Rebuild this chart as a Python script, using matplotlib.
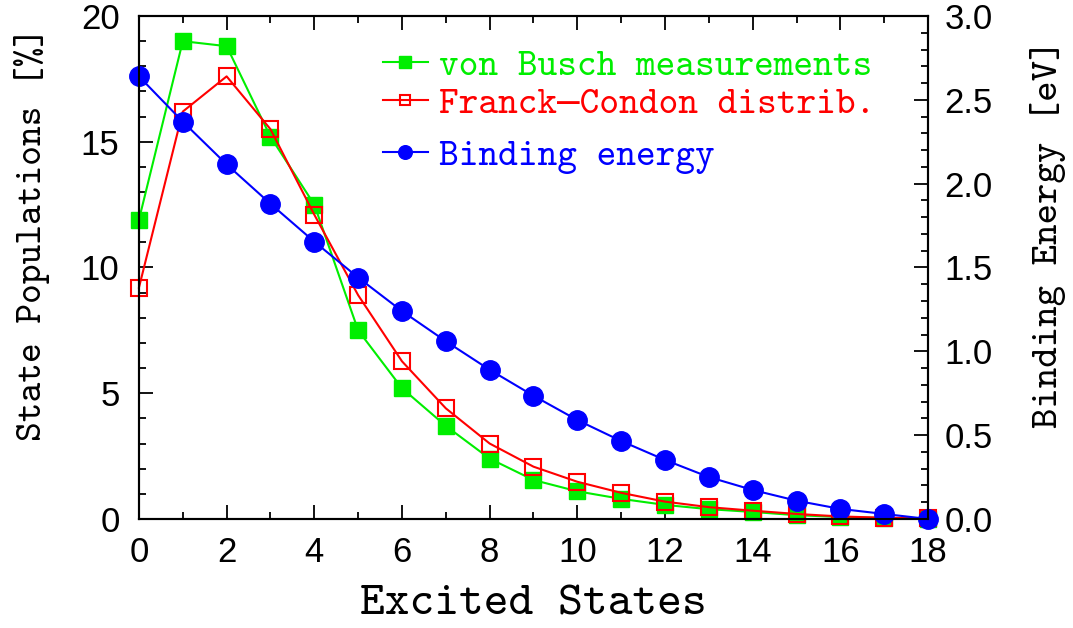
import numpy as np
import matplotlib
matplotlib.use("Agg")
import matplotlib.pyplot as plt
from matplotlib.ticker import MultipleLocator

states = list(range(19))
# measured populations [%]
von_busch = [11.9, 19.0, 18.8, 15.2, 12.5, 7.5, 5.2, 3.7, 2.4, 1.55,
             1.1, 0.8, 0.56, 0.39, 0.28, 0.15, 0.08, 0.04, 0.01]
# Franck-Condon distribution [%]
franck_condon = [9.2, 16.2, 17.6, 15.5, 12.1, 8.9, 6.27, 4.4, 3.0, 2.08,
                 1.48, 1.04, 0.69, 0.47, 0.33, 0.2, 0.1, 0.05, 0.02]
# binding energy [eV]
binding = [2.64, 2.37, 2.115, 1.88, 1.654, 1.44, 1.24, 1.06, 0.89, 0.735,
           0.59, 0.465, 0.352, 0.25, 0.173, 0.109, 0.06, 0.03, 0.0]

mono = ["cmtt10", "DejaVu Sans Mono"]
sans = "Liberation Sans"

fig = plt.figure(figsize=(10.73, 6.28), dpi=100)
ax = fig.add_axes([0.1295, 0.1736, 0.7354, 0.8009])
ax2 = ax.twinx()

l1, = ax.plot(states, von_busch, color="#00ee00", lw=1.5, marker="s", ms=12,
              label="von Busch measurements", clip_on=False)
l2, = ax.plot(states, franck_condon, color="#ff0000", lw=1.5, marker="s", ms=11,
              mfc="none", mew=1.5, label="Franck\u2014Condon distrib.", clip_on=False)
l3, = ax2.plot(states, binding, color="#0000ff", lw=1.5, marker="o", ms=14,
               label="Binding energy", clip_on=False)

ax.set_xlim(0, 18)
ax.set_ylim(0, 20)
ax2.set_ylim(0, 3.0)

ax.xaxis.set_major_locator(MultipleLocator(2))
ax.xaxis.set_minor_locator(MultipleLocator(1))
ax.yaxis.set_major_locator(MultipleLocator(5))
ax.yaxis.set_minor_locator(MultipleLocator(1))
ax2.yaxis.set_major_locator(MultipleLocator(0.5))
ax2.yaxis.set_minor_locator(MultipleLocator(0.1))
ax2.yaxis.set_major_formatter(plt.FormatStrFormatter("%.1f"))

ax.tick_params(which="both", direction="in", top=True, right=False, width=1.3)
ax.tick_params(which="major", length=10, labelsize=25, pad=12)
ax.tick_params(which="minor", length=5)
ax.tick_params(axis="y", pad=14)
ax2.tick_params(which="both", direction="in", width=1.3)
ax2.tick_params(which="major", length=10, labelsize=25, pad=12)
ax2.tick_params(which="minor", length=5)
for lab in ax.get_xticklabels() + ax.get_yticklabels() + ax2.get_yticklabels():
    lab.set_fontfamily(sans)

for a in (ax, ax2):
    for sp in a.spines.values():
        sp.set_linewidth(1.5)

ax.set_xlabel("Excited States", fontfamily=mono, fontsize=34, labelpad=12)
ax.set_ylabel("State Populations [%]", fontfamily=mono, fontsize=27)
ax.yaxis.set_label_coords(-0.113, 0.567)
ax2.set_ylabel("Binding Energy [eV]", fontfamily=mono, fontsize=28, rotation=90)
ax2.yaxis.set_label_coords(1.129, 0.567)

leg_kw = dict(frameon=False, prop={"family": mono, "size": 27}, handlelength=1.2,
              handletextpad=0.3, markerscale=0.7, labelcolor="linecolor",
              borderaxespad=0.0, borderpad=0.0)
leg1 = ax2.legend(handles=[l1, l2], loc="upper left",
                  bbox_to_anchor=(0.309, 0.935), labelspacing=0.08, **leg_kw)
ax2.add_artist(leg1)
ax2.legend(handles=[l3], loc="upper left", bbox_to_anchor=(0.309, 0.755), **leg_kw)

fig.savefig("out.png", dpi=100)
